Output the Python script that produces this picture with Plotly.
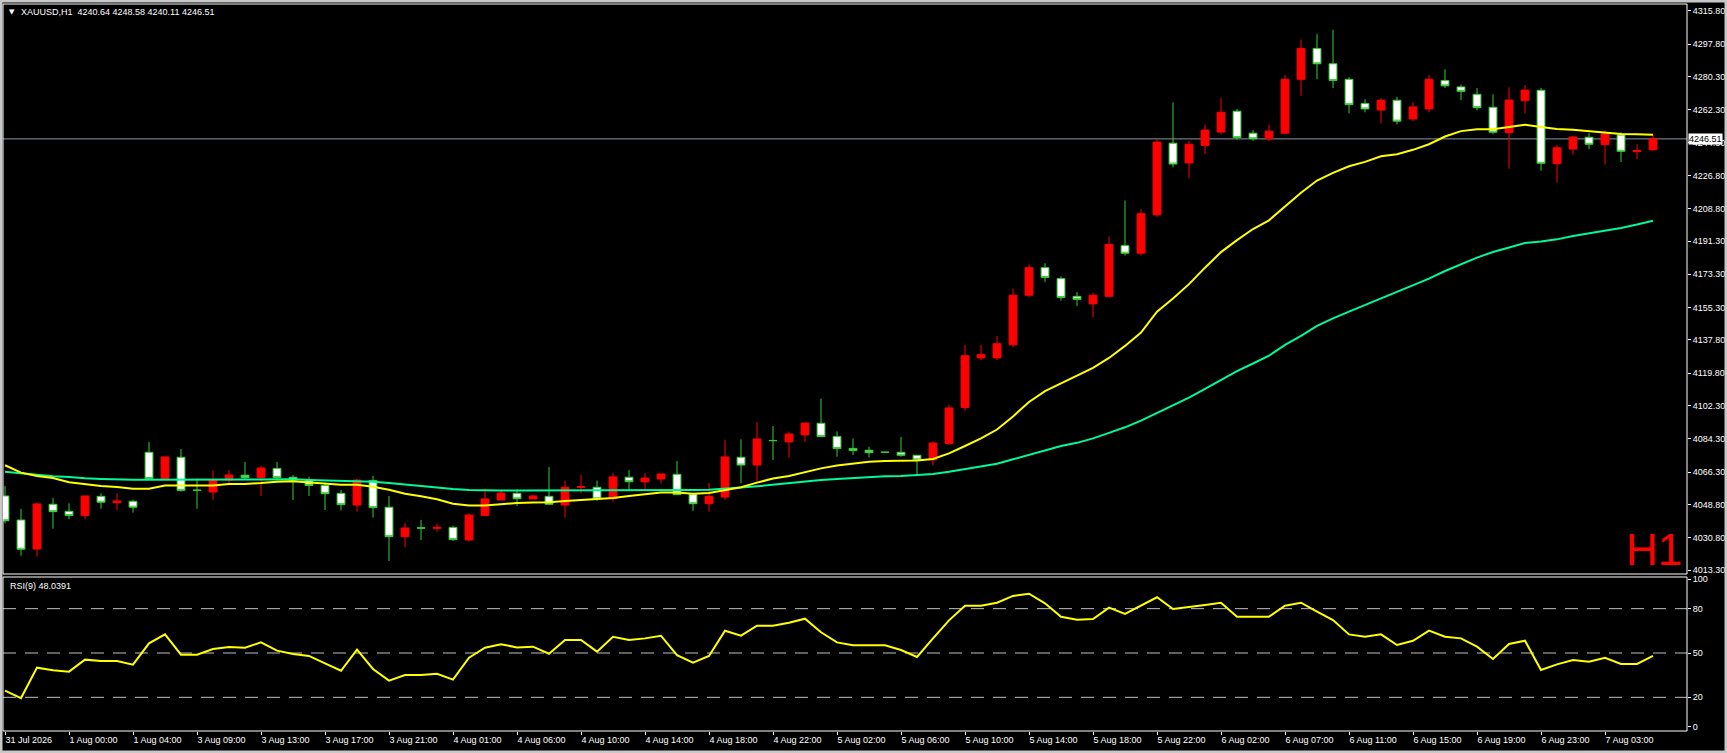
import plotly.graph_objects as go

# XAUUSD H1 chart with two moving averages and RSI(9) below

bars = list(range(104))
tick_pos = bars[::4]
tick_labels = ["31 Jul 2026", "1 Aug 00:00", "1 Aug 04:00", "3 Aug 09:00", "3 Aug 13:00",
               "3 Aug 17:00", "3 Aug 21:00", "4 Aug 01:00", "4 Aug 06:00", "4 Aug 10:00",
               "4 Aug 14:00", "4 Aug 18:00", "4 Aug 22:00", "5 Aug 02:00", "5 Aug 06:00",
               "5 Aug 10:00", "5 Aug 14:00", "5 Aug 18:00", "5 Aug 22:00", "6 Aug 02:00",
               "6 Aug 07:00", "6 Aug 11:00", "6 Aug 15:00", "6 Aug 19:00", "6 Aug 23:00",
               "7 Aug 03:00"]

opens = [4053.5, 4040.5, 4024.8, 4049.0, 4045.2, 4042.9, 4053.3, 4049.9, 4050.6, 4077.1,
         4062.5, 4074.4, 4056.7, 4055.6, 4062.1, 4064.7, 4063.4, 4068.4, 4063.6, 4062.1,
         4059.2, 4054.9, 4048.6, 4061.9, 4047.4, 4031.5, 4036.3, 4036.0, 4036.5, 4029.7,
         4042.9, 4051.3, 4054.9, 4051.9, 4053.3, 4048.6, 4058.0, 4058.2, 4052.0, 4063.6,
         4061.1, 4062.7, 4065.2, 4054.4, 4049.3, 4052.9, 4074.4, 4070.2, 4083.5, 4082.7,
         4086.5, 4092.8, 4085.7, 4079.2, 4078.2, 4077.2, 4077.1, 4075.5, 4073.0, 4081.8,
         4101.3, 4128.1, 4128.1, 4135.2, 4162.0, 4176.9, 4171.0, 4161.4, 4157.3, 4161.4,
         4188.8, 4184.7, 4205.5, 4244.2, 4233.5, 4243.0, 4250.2, 4261.5, 4249.6, 4246.6,
         4249.6, 4278.7, 4295.4, 4287.1, 4278.7, 4265.6, 4262.1, 4267.4, 4257.3, 4262.7,
         4278.1, 4274.6, 4270.6, 4263.6, 4249.9, 4267.2, 4272.8, 4233.1, 4241.0, 4247.4,
         4243.4, 4248.6, 4239.6, 4240.64]
highs = [4058.9, 4046.5, 4049.9, 4052.4, 4049.5, 4053.5, 4054.9, 4054.9, 4051.5, 4082.7,
         4074.6, 4078.9, 4062.9, 4067.2, 4067.5, 4071.9, 4069.7, 4071.9, 4064.8, 4063.9,
         4060.7, 4056.7, 4062.7, 4064.3, 4053.5, 4038.9, 4040.5, 4038.7, 4037.3, 4044.1,
         4057.6, 4057.1, 4057.1, 4054.0, 4069.2, 4061.8, 4064.8, 4061.8, 4065.9, 4067.5,
         4065.9, 4065.4, 4072.4, 4054.4, 4060.5, 4083.8, 4084.1, 4093.5, 4091.3, 4088.3,
         4092.9, 4106.1, 4088.4, 4084.6, 4080.1, 4077.3, 4085.4, 4075.5, 4083.0, 4102.7,
         4135.2, 4135.2, 4140.0, 4165.6, 4178.7, 4179.3, 4172.2, 4163.8, 4163.2, 4193.6,
         4213.2, 4208.5, 4246.0, 4266.2, 4245.4, 4254.3, 4268.6, 4262.7, 4251.3, 4254.3,
         4281.1, 4300.2, 4303.1, 4305.5, 4279.9, 4268.0, 4268.6, 4269.2, 4266.2, 4281.1,
         4284.1, 4275.8, 4274.0, 4270.6, 4274.4, 4275.6, 4274.0, 4243.2, 4248.2, 4249.6,
         4251.1, 4250.1, 4243.7, 4248.58]
lows = [4038.7, 4021.2, 4020.7, 4035.8, 4040.9, 4040.9, 4046.6, 4045.9, 4044.5, 4062.9,
        4062.5, 4055.8, 4046.6, 4051.3, 4059.4, 4062.1, 4053.5, 4062.1, 4051.3, 4053.5,
        4045.9, 4045.6, 4045.0, 4041.8, 4018.3, 4025.9, 4029.7, 4034.2, 4029.2, 4028.8,
        4042.9, 4051.3, 4048.1, 4051.9, 4048.6, 4042.0, 4054.9, 4050.8, 4050.4, 4056.7,
        4057.1, 4060.3, 4054.0, 4045.4, 4045.0, 4051.3, 4060.3, 4061.2, 4072.9, 4074.2,
        4082.7, 4085.6, 4074.7, 4075.6, 4074.4, 4077.0, 4074.7, 4064.8, 4070.1, 4081.1,
        4099.5, 4126.9, 4126.9, 4134.0, 4160.8, 4169.2, 4159.1, 4156.1, 4150.1, 4160.8,
        4183.5, 4183.5, 4204.3, 4231.1, 4225.1, 4238.2, 4249.0, 4246.0, 4245.4, 4245.4,
        4249.0, 4269.8, 4278.7, 4274.0, 4260.3, 4260.9, 4254.9, 4254.3, 4256.1, 4260.9,
        4274.0, 4267.4, 4262.0, 4249.0, 4230.4, 4260.3, 4229.3, 4222.8, 4238.0, 4240.9,
        4232.6, 4234.0, 4235.6, 4240.11]
closes = [4040.1, 4024.7, 4049.2, 4045.0, 4042.9, 4053.5, 4050.1, 4050.8, 4047.4, 4062.9,
          4074.6, 4056.5, 4056.5, 4062.1, 4064.8, 4063.4, 4068.6, 4063.4, 4062.1, 4059.2,
          4054.7, 4048.8, 4062.1, 4047.2, 4031.5, 4036.2, 4036.1, 4036.5, 4029.9, 4043.2,
          4051.9, 4055.1, 4052.0, 4053.5, 4049.0, 4058.2, 4058.5, 4051.9, 4063.8, 4061.2,
          4063.2, 4065.4, 4054.2, 4049.3, 4053.3, 4074.6, 4070.2, 4084.3, 4083.4, 4087.0,
          4092.9, 4085.6, 4079.1, 4078.0, 4076.9, 4077.1, 4075.5, 4073.0, 4082.1, 4101.1,
          4129.3, 4129.9, 4135.8, 4162.0, 4176.9, 4171.6, 4160.8, 4159.7, 4162.0, 4189.4,
          4184.7, 4206.1, 4244.8, 4232.9, 4243.6, 4251.3, 4260.9, 4247.2, 4246.6, 4250.7,
          4278.7, 4295.4, 4287.1, 4278.1, 4265.0, 4262.7, 4267.4, 4256.1, 4263.8, 4278.7,
          4275.2, 4272.2, 4263.4, 4250.1, 4267.5, 4272.9, 4233.3, 4241.7, 4247.5, 4243.6,
          4249.2, 4239.8, 4240.2, 4246.51]

# moving averages
ma_fast = [4070.1, 4066.1, 4064.3, 4063.2, 4060.9, 4059.8, 4058.9, 4058.3, 4057.4, 4057.4,
           4059.1, 4059.2, 4059.1, 4059.2, 4060.0, 4060.0, 4060.5, 4061.2, 4061.4, 4060.9,
           4060.1, 4059.6, 4059.6, 4058.5, 4056.9, 4054.7, 4053.3, 4051.7, 4049.3, 4048.3,
           4048.4, 4049.2, 4049.7, 4049.9, 4050.1, 4050.8, 4051.3, 4051.5, 4052.4, 4053.5,
           4054.2, 4055.3, 4055.3, 4054.7, 4055.1, 4056.7, 4058.2, 4060.7, 4062.9, 4064.3,
           4066.5, 4068.4, 4069.9, 4071.1, 4072.0, 4072.4, 4072.6, 4072.6, 4073.5, 4076.5,
           4080.5, 4084.6, 4089.4, 4096.5, 4104.3, 4110.2, 4114.4, 4118.6, 4122.7, 4128.1,
           4134.6, 4141.8, 4153.1, 4160.2, 4168.0, 4176.9, 4185.3, 4191.8, 4197.8, 4202.5,
           4209.7, 4217.4, 4224.0, 4228.1, 4231.7, 4234.1, 4237.1, 4238.2, 4240.6, 4243.6,
           4247.8, 4250.7, 4251.7, 4251.7, 4252.9, 4254.2, 4252.9, 4251.9, 4251.5, 4250.6,
           4250.1, 4249.2, 4249.0, 4248.8]
ma_slow = [4066.6, 4065.7, 4065.0, 4064.1, 4063.8, 4063.0, 4062.7, 4062.3, 4062.3, 4062.3,
           4062.3, 4062.3, 4062.3, 4062.3, 4062.3, 4062.3, 4062.5, 4062.7, 4062.5, 4062.1,
           4061.9, 4061.8, 4061.4, 4061.2, 4060.5, 4059.6, 4058.9, 4058.2, 4057.3, 4056.7,
           4056.4, 4056.4, 4056.4, 4056.4, 4056.4, 4056.4, 4056.4, 4056.4, 4056.4, 4056.4,
           4056.4, 4056.6, 4056.7, 4056.7, 4056.9, 4057.3, 4058.0, 4058.7, 4059.6, 4060.5,
           4061.4, 4062.1, 4062.7, 4063.2, 4063.8, 4064.1, 4064.3, 4064.7, 4065.4, 4066.6,
           4068.0, 4069.2, 4070.9, 4073.3, 4075.7, 4078.1, 4080.5, 4082.2, 4084.6, 4087.6,
           4090.6, 4094.2, 4098.3, 4102.5, 4106.7, 4111.4, 4116.2, 4121.0, 4125.1, 4129.3,
           4135.2, 4140.0, 4145.4, 4149.5, 4153.1, 4156.7, 4160.2, 4163.8, 4167.4, 4171.0,
           4175.1, 4178.7, 4182.3, 4185.4, 4187.9, 4190.2, 4191.0, 4192.2, 4194.0, 4195.5,
           4196.7, 4198.3, 4200.2, 4202.3]
rsi = [24.5, 19.5, 40.1, 38.3, 37.4, 45.5, 44.6, 44.6, 42.1, 56.5,
       62.6, 48.9, 48.9, 52.7, 54.1, 53.6, 57.2, 51.6, 49.3, 48.0,
       43.0, 38.0, 52.3, 39.2, 31.3, 35.1, 35.1, 36.0, 32.0, 46.8,
       53.6, 55.9, 53.8, 54.3, 49.5, 58.8, 58.8, 50.9, 61.0, 58.8,
       59.9, 61.7, 48.6, 43.5, 48.0, 65.1, 61.7, 68.5, 68.5, 70.5,
       73.2, 64.0, 57.2, 55.2, 55.2, 55.2, 52.0, 47.3, 59.9, 72.1,
       82.0, 82.0, 84.0, 88.6, 90.1, 83.6, 74.5, 72.5, 73.0, 80.7,
       76.4, 81.8, 87.7, 79.8, 80.9, 82.5, 84.0, 74.6, 74.6, 74.6,
       82.0, 84.0, 78.0, 72.3, 62.6, 61.0, 62.6, 55.4, 58.3, 65.1,
       61.0, 59.9, 54.3, 45.9, 56.1, 58.3, 38.5, 42.3, 45.3, 44.1,
       46.8, 42.6, 42.6, 48.0]

price_ticks = [4315.80, 4297.80, 4280.30, 4262.30, 4244.30, 4226.80, 4208.80, 4191.30, 4173.30,
               4155.30, 4137.80, 4119.80, 4102.30, 4084.30, 4066.30, 4048.80, 4030.80, 4013.30]
rsi_ticks = [0, 20, 50, 80, 100]
rsi_levels = [20, 50, 80]
last_price = 4246.51

# page geometry (px)
W, H = 1727, 753
ML, MR, MT, MB = 3, 40, 4, 22
plot_w = W - ML - MR
plot_h = H - MT - MB


def px_x(px):
    return (px - ML) / plot_w


def px_y(py):
    return (H - MB - py) / plot_h


main_dom = [px_y(574), 1]
rsi_dom = [0, px_y(577)]

font = dict(family="Liberation Sans, Arial, sans-serif", size=9, color="white")

fig = go.Figure()

fig.add_trace(go.Candlestick(
    x=bars, open=opens, high=highs, low=lows, close=closes,
    increasing=dict(line=dict(color="#ff0000", width=1), fillcolor="#ff0000"),
    decreasing=dict(line=dict(color="#32cd32", width=1), fillcolor="#ffffff"),
    whiskerwidth=0, xaxis="x", yaxis="y", hoverinfo="skip"))

fig.add_trace(go.Scatter(x=bars, y=ma_slow, mode="lines",
                         line=dict(color="#00fa9a", width=2), yaxis="y"))
fig.add_trace(go.Scatter(x=bars, y=ma_fast, mode="lines",
                         line=dict(color="#ffff00", width=2), yaxis="y"))
fig.add_trace(go.Scatter(x=bars, y=rsi, mode="lines",
                         line=dict(color="#ffff00", width=2), yaxis="y2"))

shapes = []
# current price line
shapes.append(dict(type="line", xref="paper", x0=0, x1=1, yref="y", y0=last_price, y1=last_price,
                   line=dict(color="#8896a4", width=1), layer="below"))
# rsi levels
for lv in rsi_levels:
    shapes.append(dict(type="line", xref="paper", x0=0, x1=1, yref="y2", y0=lv, y1=lv,
                       line=dict(color="#c0c0c0", width=1, dash="13px,9px"), layer="below"))
# panel frames
shapes.append(dict(type="rect", xref="paper", yref="paper", x0=0, x1=1,
                   y0=main_dom[0], y1=main_dom[1], line=dict(color="white", width=1)))
shapes.append(dict(type="rect", xref="paper", yref="paper", x0=0, x1=1,
                   y0=rsi_dom[0], y1=rsi_dom[1], line=dict(color="white", width=1)))
# window border
shapes.append(dict(type="rect", xref="paper", yref="paper",
                   x0=px_x(0), x1=px_x(W), y0=px_y(H), y1=px_y(0),
                   line=dict(color="#c8c8c8", width=5)))

annotations = [
    dict(text="▼", x=px_x(7), y=px_y(12), xref="paper", yref="paper",
         xanchor="left", yanchor="middle", showarrow=False,
         font=dict(family="DejaVu Sans", size=7, color="white")),
    dict(text="XAUUSD,H1  4240.64 4248.58 4240.11 4246.51", x=px_x(19), y=px_y(12),
         xref="paper", yref="paper", xanchor="left", yanchor="middle", showarrow=False, font=font),
    dict(text="RSI(9) 48.0391", x=px_x(8), y=px_y(586), xref="paper", yref="paper",
         xanchor="left", yanchor="middle", showarrow=False, font=font),
    dict(text="H1", x=px_x(1684), y=px_y(549), xref="paper", yref="paper",
         xanchor="right", yanchor="middle", showarrow=False,
         font=dict(family="Liberation Sans, Arial, sans-serif", size=44, color="#ff0000")),
    dict(text="4246.51", x=1, xshift=1, y=last_price, xref="paper", yref="y",
         xanchor="left", yanchor="middle", showarrow=False, bgcolor="white", borderpad=0,
         font=dict(family="Liberation Sans, Arial, sans-serif", size=9, color="black")),
]

fig.update_layout(
    template="none",
    width=W, height=H,
    margin=dict(l=ML, r=MR, t=MT, b=MB, pad=0),
    paper_bgcolor="black", plot_bgcolor="black",
    showlegend=False,
    xaxis=dict(range=[-0.125, 105.125], anchor="y2", tickvals=tick_pos, ticktext=tick_labels,
               ticks="outside", ticklen=3, tickcolor="white", tickfont=font,
               ticklabelposition="outside right", showgrid=False, zeroline=False,
               showline=False, rangeslider=dict(visible=False), automargin=False),
    yaxis=dict(domain=main_dom, range=[4011.31, 4319.42], side="right", anchor="x",
               tickvals=price_ticks, ticktext=[f"{v:.2f}" for v in price_ticks],
               ticks="outside", ticklen=3, tickcolor="white", tickfont=font,
               showgrid=False, zeroline=False, showline=False, automargin=False),
    yaxis2=dict(domain=rsi_dom, range=[-2.77, 101.42], side="right", anchor="x",
                tickvals=rsi_ticks, ticktext=[str(v) for v in rsi_ticks],
                ticks="outside", ticklen=3, tickcolor="white", tickfont=font,
                showgrid=False, zeroline=False, showline=False, automargin=False),
    shapes=shapes,
    annotations=annotations,
)

# the page body has a default margin; remove it so the figure fills the window exactly
fig.write_html("out.html", config={"displayModeBar": False},
               post_script="document.body.style.margin='0';"
                           "document.body.style.overflow='hidden';")
